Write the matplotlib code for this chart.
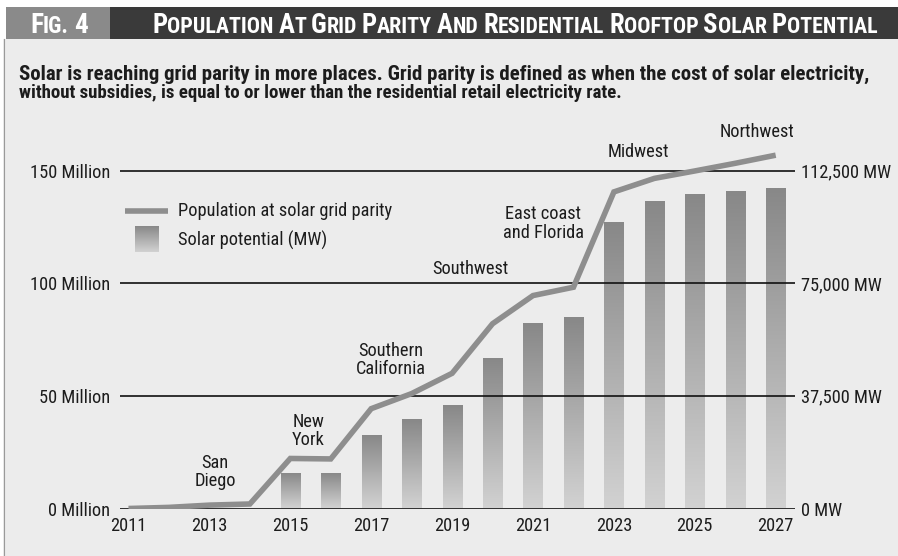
import matplotlib
matplotlib.use('Agg')
import matplotlib.pyplot as plt
import numpy as np
from matplotlib import font_manager as fm
from matplotlib.patches import Rectangle

# ---------------- data ----------------
years = list(range(2011, 2028))
population_m = [0, 0.5, 1.5, 2, 22.2, 22, 44.3, 51, 60, 82, 94.5, 98.2,
                140.5, 146.5, 149.8, 153.2, 156.8]
solar_mw = [0, 0, 0, 0, 11600, 11600, 24000, 29600, 34100, 49800, 61400,
            63500, 95100, 102000, 104300, 105400, 106500]
left_ticks = [0, 50, 100, 150]
left_labels = ['0 Million', '50 Million', '100 Million', '150 Million']
right_ticks = [0, 37500, 75000, 112500]
right_labels = ['0 MW', '37,500 MW', '75,000 MW', '112,500 MW']
xtick_years = [2011, 2013, 2015, 2017, 2019, 2021, 2023, 2025, 2027]
region_names = ['San\nDiego', 'New\nYork', 'Southern\nCalifornia', 'Southwest',
                'East coast\nand Florida', 'Midwest', 'Northwest']
region_pos = [(2013.14, 16.2), (2015.44, 34.4), (2017.49, 65.9), (2019.44, 106.3),
              (2021.25, 126.5), (2023.6, 158.0), (2026.55, 166.9)]
fig_label = 'Fig. 4'
title = 'Population At Grid Parity And Residential Rooftop Solar Potential'
subtitle1 = ('Solar is reaching grid parity in more places. Grid parity is defined as '
             'when the cost of solar electricity,')
subtitle2 = 'without subsidies, is equal to or lower than the residential retail electricity rate.'
legend_line = 'Population at solar grid parity'
legend_bar = 'Solar potential (MW)'
MW_PER_M = 750.0

# ---------------- fonts ----------------
entries = {}
for f in fm.fontManager.ttflist:
    entries.setdefault(f.name, set()).add(f.weight)


def pick(cands, need_bold=False):
    for c in cands:
        if c in entries:
            ws = [w for w in entries[c] if isinstance(w, (int, float))]
            if not need_bold or any(w >= 600 for w in ws):
                return dict(family=c)
    return dict(family='DejaVu Sans', stretch='condensed')


BODY = pick(['Roboto Condensed', 'Archivo Narrow', 'PT Sans Narrow',
             'Liberation Sans Narrow', 'IBM Plex Sans Condensed'], need_bold=True)
HEAD = pick(['Roboto Condensed', 'IBM Plex Sans Condensed', 'Fjalla One'], need_bold=True)

TXT = '#1c1c1c'
LINE_C = '#8e8e8e'
W, H = 898, 556

fig = plt.figure(figsize=(W / 100, H / 100), dpi=100, facecolor='white')
renderer = fig.canvas.get_renderer()

# background pixel axes
bg = fig.add_axes([0, 0, 1, 1], zorder=-10)
bg.set_xlim(0, W)
bg.set_ylim(H, 0)
bg.axis('off')
bg.add_patch(Rectangle((3, 39), W - 3, H - 39, facecolor='#ececec', edgecolor='none'))
bg.plot([3.5, 3.5], [39, H], color='#9a9a9a', lw=0.8)
bg.add_patch(Rectangle((6, 7), 104, 32, facecolor='#8a8a8a', edgecolor='none'))
bg.add_patch(Rectangle((110, 7), W - 110, 32, facecolor='#3a3a3a', edgecolor='none'))


def text_width(s, size, **kw):
    t = bg.text(0, 0, s, fontsize=size, **kw)
    w = t.get_window_extent(renderer).width
    t.remove()
    return w


def small_caps(x, y, text, big, small, target_width=None):
    def draw(bsz, ssz):
        arts = []
        cx = x
        for word_i, word in enumerate(text.split(' ')):
            if word_i > 0:
                cx += 0.22 * ssz * 100 / 72
            runs = []
            for ch in word:
                sz = bsz if (ch.isupper() or ch.isdigit()) else ssz
                if runs and runs[-1][1] == sz:
                    runs[-1][0] += ch.upper()
                else:
                    runs.append([ch.upper(), sz])
            for s, sz in runs:
                t = bg.text(cx, y, s, fontsize=sz, color='white', fontweight='bold',
                            ha='left', va='baseline', **HEAD)
                bb = t.get_window_extent(renderer)
                cx += bb.width
                arts.append(t)
        return arts, cx - x
    arts, w = draw(big, small)
    if target_width:
        for a in arts:
            a.remove()
        f = target_width / w
        arts, w = draw(big * f, small * f)
    return arts


def fit_text(x, y, s, size, target_width, **kw):
    t = bg.text(x, y, s, fontsize=size, **kw)
    w = t.get_window_extent(renderer).width
    t.set_fontsize(size * target_width / w)
    return t


small_caps(30, 33, fig_label, 17, 14, target_width=58)
small_caps(152, 33, title, 17, 14, target_width=728)

fit_text(19, 74, subtitle1, 13, 849, color=TXT, fontweight='bold', ha='left',
         va='center', **BODY)
fit_text(19, 93, subtitle2, 13, 599, color=TXT, fontweight='bold', ha='left',
         va='center', **BODY)

# label font size fitted so "150 Million" is ~80 px wide
LS = 10 * 80 / text_width('150 Million', 10, **BODY)

# ---------------- main axes ----------------
px_per_year = 40.45
x2011 = 128.5
ax_left_px, ax_right_px = 120, 795
y0_px, px_per_m = 508.5, 2.2533
ymax = 160
ax_top_px = y0_px - ymax * px_per_m
ax = fig.add_axes([ax_left_px / W, (H - y0_px) / H,
                   (ax_right_px - ax_left_px) / W, (y0_px - ax_top_px) / H])
ax2 = ax.twinx()
xl = (2011 + (ax_left_px - x2011) / px_per_year, 2011 + (ax_right_px - x2011) / px_per_year)
ax.set_xlim(*xl)
ax.set_ylim(0, ymax)
ax.set_zorder(ax2.get_zorder() + 1)
for a in (ax, ax2):
    a.patch.set_visible(False)
    for sp in a.spines.values():
        sp.set_visible(False)

# bars with vertical gradient
grad = np.linspace(0, 1, 256).reshape(-1, 1)
cmap = matplotlib.colors.LinearSegmentedColormap.from_list('g', ['#d2d2d2', '#888888'])
bars = ax2.bar(years, solar_mw, width=0.47, color='none', edgecolor='none')
for b in bars:
    h = b.get_height()
    if h <= 0:
        continue
    x0 = b.get_x()
    ax2.imshow(grad, extent=(x0, x0 + b.get_width(), 0, h), origin='lower',
               cmap=cmap, aspect='auto', zorder=2, interpolation='bilinear')
ax2.set_xlim(*xl)
ax2.set_ylim(0, ymax * MW_PER_M)

# gridlines
for v in left_ticks:
    ax.axhline(v, color='#111111', lw=1.2, zorder=1)

ax.plot(years, population_m, color=LINE_C, lw=4.0, solid_joinstyle='miter',
        solid_capstyle='butt', zorder=3)

ax.set_yticks(left_ticks)
ax.set_yticklabels(left_labels)
ax2.set_yticks(right_ticks)
ax2.set_yticklabels(right_labels)
ax.set_xticks(xtick_years)
ax.set_xticklabels([str(y) for y in xtick_years])
ax.tick_params(axis='y', length=0, pad=7, labelsize=LS, labelcolor=TXT)
ax2.tick_params(axis='y', length=0, pad=4, labelsize=LS, labelcolor=TXT)
ax.tick_params(axis='x', length=0, pad=6, labelsize=LS, labelcolor=TXT)
for lab in ax.get_yticklabels() + ax2.get_yticklabels() + ax.get_xticklabels():
    lab.set_family(BODY['family'])
    if 'stretch' in BODY:
        lab.set_stretch(BODY['stretch'])

for name, (xp, yp) in zip(region_names, region_pos):
    ax.text(xp, yp, name, ha='center', va='center', fontsize=LS, color=TXT,
            linespacing=1.05, **BODY)

# legend (pixel coords)
bg.plot([125, 168], [211, 211], color=LINE_C, lw=4.0, solid_capstyle='butt')
bg.imshow(grad[::-1], extent=(135, 159, 252, 226), cmap=cmap, aspect='auto',
          interpolation='bilinear', zorder=2)
bg.set_xlim(0, W)
bg.set_ylim(H, 0)
bg.text(178, 211, legend_line, ha='left', va='center', fontsize=LS, color=TXT, **BODY)
bg.text(178, 240, legend_bar, ha='left', va='center', fontsize=LS, color=TXT, **BODY)

fig.savefig('out.png', dpi=100, facecolor='white')
